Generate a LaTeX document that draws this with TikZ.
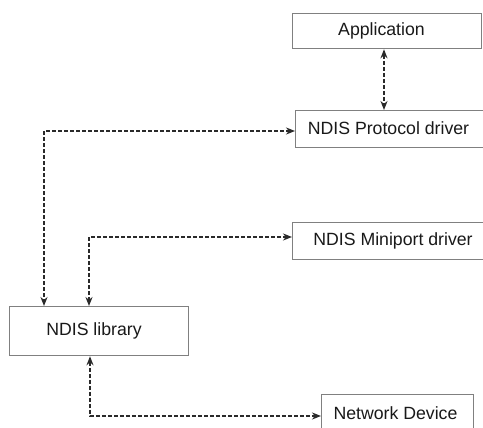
\documentclass[tikz,border=0pt]{standalone}
\usepackage{fontspec}
\setmainfont{Liberation Sans}
\usetikzlibrary{arrows.meta}
\definecolor{boxgray}{HTML}{808080}
\definecolor{linegray}{HTML}{2A2A2A}
\tikzset{
  boxnode/.style={draw=boxgray, line width=1.3pt, rectangle, inner sep=0pt, anchor=north west, fill=white},
  lbl/.style={inner sep=0pt, font=\fontsize{17.7}{21}\selectfont, text=black!90},
  link/.style={draw=linegray, line width=1.5pt, dash pattern=on 4pt off 2pt,
    {Stealth[length=9pt,width=7pt]}-{Stealth[length=9pt,width=7pt]}},
}
\begin{document}
\begin{tikzpicture}[x=1pt, y=-1pt]
\useasboundingbox (0,0) rectangle (483,428);
\fill[white] (0,0) rectangle (483,428);
% boxes
\node[boxnode, minimum width=189pt, minimum height=35pt] (app) at (292,13) {};
\node[boxnode, minimum width=200pt, minimum height=37pt] (proto) at (295,110) {};
\node[boxnode, minimum width=203pt, minimum height=37pt] (mini) at (292,222) {};
\node[boxnode, minimum width=179pt, minimum height=49pt] (lib) at (9,306) {};
\node[boxnode, minimum width=152pt, minimum height=46pt] (dev) at (321,394) {};
% labels
\node[lbl] (appt) at (381.5,30.5) {Application};
\node[lbl] (protot) at (388.5,128.5) {NDIS Protocol driver};
\node[lbl] (minit) at (393,240.5) {NDIS Miniport driver};
\node[lbl] (libt) at (94,330.5) {NDIS library};
\node[lbl] (devt) at (395.5,413) {Network Device};
% connector corner points
\coordinate (c1) at (44,131);
\coordinate (c2) at (89,237);
\coordinate (c3) at (90,416);
% connectors
\draw[link] (app.south -| 384,0) -- (proto.north -| 384,0);
\draw[link] (proto.west |- c1) -- (c1) -- (lib.north -| c1);
\draw[link] (mini.west |- c2) -- (c2) -- (lib.north -| c2);
\draw[link] (lib.south -| c3) -- (c3) -- (dev.west |- c3);
\end{tikzpicture}
\end{document}
